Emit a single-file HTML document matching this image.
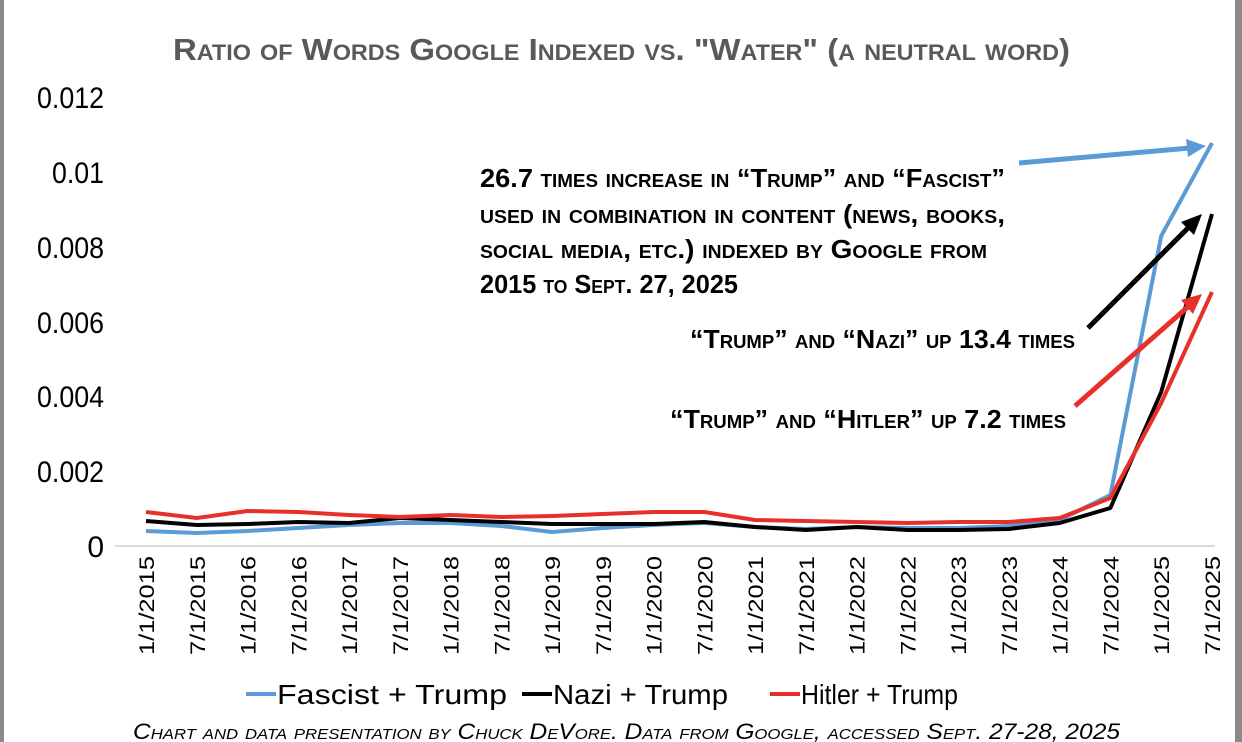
<!DOCTYPE html>
<html><head><meta charset="utf-8"><style>
html,body{margin:0;padding:0;background:#fff}
svg{display:block}
text{font-family:"Liberation Sans Narrow","Liberation Sans",sans-serif}
</style></head><body>
<svg width="1242" height="742" viewBox="0 0 1242 742" xmlns="http://www.w3.org/2000/svg">
<rect x="0" y="0" width="1242" height="742" fill="#fff"/>
<rect x="0" y="0" width="4" height="742" fill="#8a8a8a"/>
<rect x="1235" y="0" width="7" height="742" fill="#8a8a8a"/>
<text x="173" y="60" font-size="31" font-weight="bold" fill="#595959" font-variant="small-caps" textLength="897" lengthAdjust="spacingAndGlyphs">Ratio of Words Google Indexed vs. "Water" (a neutral word)</text>
<g font-size="30" fill="#000" text-anchor="end" lengthAdjust="spacingAndGlyphs">
<text x="104" y="108" textLength="67" lengthAdjust="spacingAndGlyphs">0.012</text>
<text x="104" y="183" textLength="52" lengthAdjust="spacingAndGlyphs">0.01</text>
<text x="104" y="258" textLength="67" lengthAdjust="spacingAndGlyphs">0.008</text>
<text x="104" y="333" textLength="67" lengthAdjust="spacingAndGlyphs">0.006</text>
<text x="104" y="407" textLength="67" lengthAdjust="spacingAndGlyphs">0.004</text>
<text x="104" y="482" textLength="67" lengthAdjust="spacingAndGlyphs">0.002</text>
<text x="104" y="557">0</text>
</g>
<line x1="115" y1="546" x2="1215" y2="546" stroke="#d9d9d9" stroke-width="2"/>
<g font-size="21" fill="#000" text-anchor="end" id="xl"></g>
<g fill="none" stroke-width="4" stroke-linejoin="round">
<polyline id="b" stroke="#5b9bd5" points=""/>
<polyline id="k" stroke="#000" points=""/>
<polyline id="r" stroke="#e8302a" points=""/>
</g>
<g font-weight="bold" font-size="26" fill="#000" font-variant="small-caps">
<text x="480" y="187" textLength="525" lengthAdjust="spacingAndGlyphs">26.7 times increase in “Trump” and “Fascist”</text>
<text x="480" y="223" textLength="525" lengthAdjust="spacingAndGlyphs">used in combination in content (news, books,</text>
<text x="480" y="258" textLength="507" lengthAdjust="spacingAndGlyphs">social media, etc.) indexed by Google from</text>
<text x="480" y="293" textLength="258" lengthAdjust="spacingAndGlyphs">2015 to Sept. 27, 2025</text>
<text x="690" y="348" textLength="385" lengthAdjust="spacingAndGlyphs">“Trump” and “Nazi” up 13.4 times</text>
<text x="670" y="428" textLength="396" lengthAdjust="spacingAndGlyphs">“Trump” and “Hitler” up 7.2 times</text>
</g>
<g stroke-width="5">
<line x1="1019" y1="163" x2="1190" y2="148" stroke="#5b9bd5"/>
<polygon points="1206,146 1186,139 1188,157" fill="#5b9bd5"/>
<line x1="1088" y1="328" x2="1190" y2="226" stroke="#000"/>
<polygon points="1202,214 1181,222 1194,235" fill="#000"/>
<line x1="1075" y1="406" x2="1190" y2="305" stroke="#e8302a"/>
<polygon points="1202,294 1181,300 1193,314" fill="#e8302a"/>
</g>
<g font-size="28" fill="#000">
<line x1="246" y1="694" x2="276" y2="694" stroke="#5b9bd5" stroke-width="4"/>
<text x="277" y="704" textLength="230" lengthAdjust="spacingAndGlyphs">Fascist + Trump</text>
<line x1="522" y1="694" x2="552" y2="694" stroke="#000" stroke-width="4"/>
<text x="553" y="704" textLength="175" lengthAdjust="spacingAndGlyphs">Nazi + Trump</text>
<line x1="770" y1="694" x2="800" y2="694" stroke="#e8302a" stroke-width="4"/>
<text x="801" y="704" textLength="157" lengthAdjust="spacingAndGlyphs">Hitler + Trump</text>
</g>
<text x="133" y="739" font-size="22" font-style="italic" font-variant="small-caps" fill="#000" textLength="987" lengthAdjust="spacingAndGlyphs">Chart and data presentation by Chuck DeVore. Data from Google, accessed Sept. 27-28, 2025</text>
</svg>
<script>
var b=[531,533,531,528,525,523,523,526,532,528,525,523,527,529,527,528,528,526,520,495,236,143];
var k=[521,525,524,522,523,518,520,522,524,524,524,522,527,530,527,530,530,529,523,508,392,214];
var r=[512,518,511,512,515,517,515,517,516,514,512,512,520,521,522,523,522,522,518,498,403,292];
function pts(a){return a.map(function(y,i){return (146+i*50.76).toFixed(1)+","+y}).join(" ")}
document.getElementById("b").setAttribute("points",pts(b));
document.getElementById("k").setAttribute("points",pts(k));
document.getElementById("r").setAttribute("points",pts(r));
var g=document.getElementById("xl"),s="";
for(var i=0;i<22;i++){var yr=2015+Math.floor(i/2);var lab=(i%2?"7":"1")+"/1/"+yr;var x=146+i*50.76+8;
s+='<text transform="translate('+x.toFixed(1)+',556) rotate(-90)" textLength="99" lengthAdjust="spacingAndGlyphs">'+lab+'</text>';}
g.innerHTML=s;
</script>
</body></html>
